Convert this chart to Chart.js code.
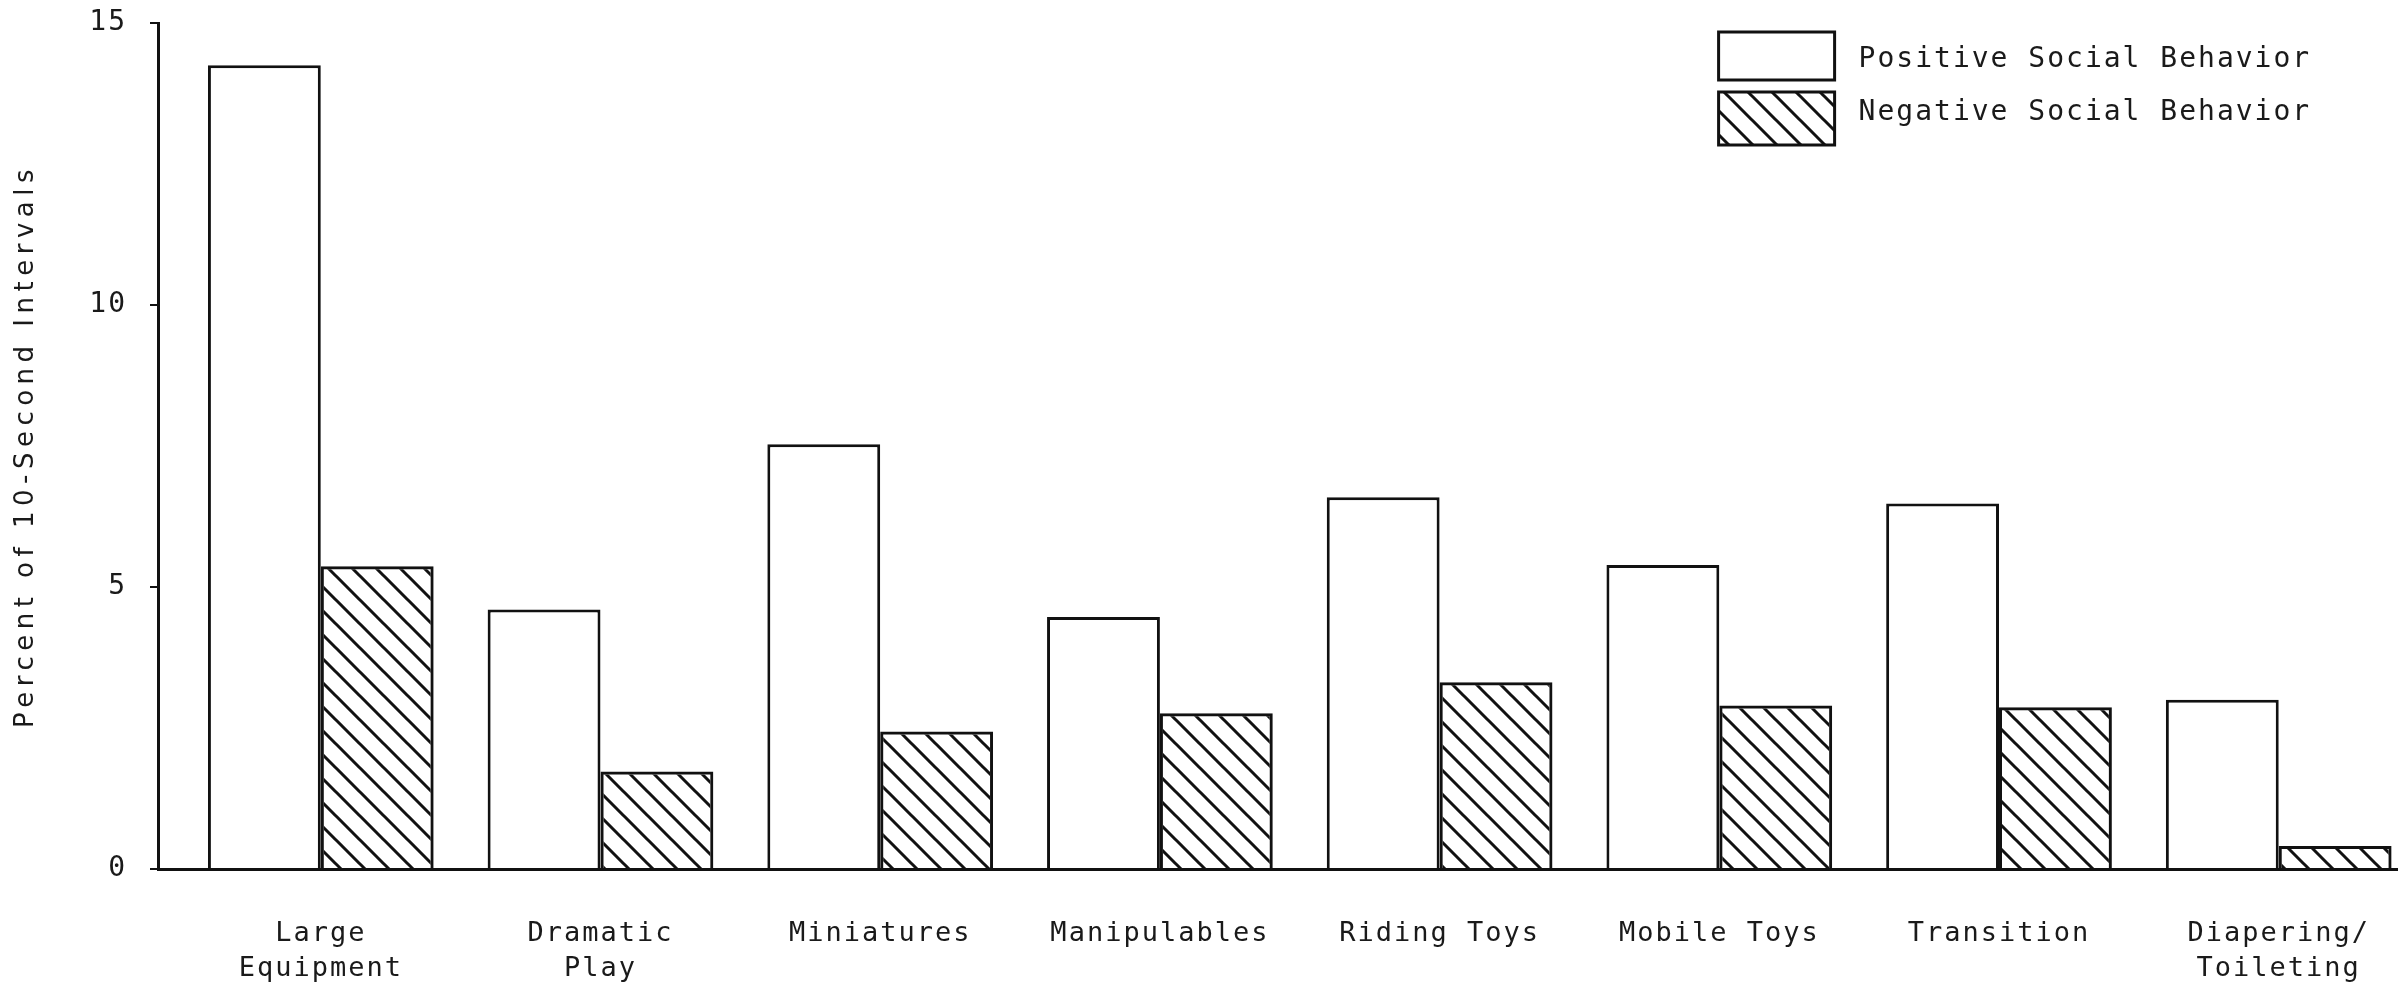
<!DOCTYPE html>
<html>
<head>
<meta charset="utf-8">
<script src="https://cdn.jsdelivr.net/npm/chart.js@4.4.1/dist/chart.umd.min.js"></script>
<style>
  html, body { margin: 0; padding: 0; background: #fff; }
  #wrap { width: 2399px; height: 990px; position: relative; }
</style>
</head>
<body>
<div id="wrap"><canvas id="socialChart"></canvas></div>
<script>
const categories = [
    ['Large', 'Equipment'], ['Dramatic', 'Play'], 'Miniatures', 'Manipulables',
    'Riding Toys', 'Mobile Toys', 'Transition', ['Diapering/', 'Toileting']
];
const seriesNames = ['Positive Social Behavior', 'Negative Social Behavior'];
const positiveValues = [14.25, 4.6, 7.53, 4.47, 6.59, 5.39, 6.48, 3.0];
const negativeValues = [5.37, 1.73, 2.44, 2.76, 3.31, 2.9, 2.87, 0.41];
const yTicks = [0, 5, 10, 15];
const yTitle = 'Percent of 10-Second Intervals';

const ink = '#111';
const textInk = '#1a1a1a';

const canvas = document.getElementById('socialChart');
const ctx = canvas.getContext('2d');

// diagonal "\\\" hatching for the negative bars
function makeHatch() {
    const size = 24;
    const tile = document.createElement('canvas');
    tile.width = size;
    tile.height = size;
    const g = tile.getContext('2d');
    g.strokeStyle = ink;
    g.lineWidth = 3;
    g.beginPath();
    g.moveTo(-4, -4); g.lineTo(size + 4, size + 4);
    g.moveTo(size - 4, -4); g.lineTo(size + 4, 4);
    g.moveTo(-4, size - 4); g.lineTo(4, size + 4);
    g.stroke();
    return ctx.createPattern(tile, 'repeat');
}
const hatch = makeHatch();

// typewriter look: spaced letters (title wider than tick labels)
const spacing = {
    id: 'spacing',
    beforeDraw(chart) { chart.ctx.letterSpacing = '5.5px'; },
    afterDatasetsDraw(chart) { chart.ctx.letterSpacing = '2px'; },
    afterDraw(chart) { chart.ctx.letterSpacing = '0px'; }
};

// stacked legend boxes in the top right corner
const boxLegend = {
    id: 'boxLegend',
    afterDraw(chart) {
        const c = chart.ctx;
        const x = chart.chartArea.right - 679;
        const w = 116;
        const rows = [{ top: 32, h: 48, base: 67 }, { top: 92, h: 53, base: 120 }];
        c.save();
        c.letterSpacing = '2px';
        chart.data.datasets.forEach((ds, i) => {
            const r = rows[i];
            c.fillStyle = ds.backgroundColor;
            c.fillRect(x, r.top, w, r.h);
            c.lineWidth = 3;
            c.strokeStyle = ink;
            c.strokeRect(x, r.top, w, r.h);
            c.fillStyle = textInk;
            c.font = '28px "DejaVu Sans Mono"';
            c.textBaseline = 'alphabetic';
            c.fillText(ds.label, x + 140, r.base);
        });
        c.restore();
    }
};

const toPoints = values => values.map((v, i) => ({ x: i, y: v }));

new Chart(ctx, {
    type: 'bar',
    data: {
        datasets: [{
            label: seriesNames[0],
            data: toPoints(positiveValues),
            backgroundColor: '#fff',
            borderColor: ink,
            borderWidth: 3,
            categoryPercentage: 0.807,
            barPercentage: 1
        }, {
            label: seriesNames[1],
            data: toPoints(negativeValues),
            backgroundColor: hatch,
            borderColor: ink,
            borderWidth: 3,
            categoryPercentage: 0.807,
            barPercentage: 1
        }]
    },
    options: {
        responsive: true,
        maintainAspectRatio: false,
        animation: false,
        layout: { padding: { top: 23, right: 0, bottom: 0, left: 0 } },
        plugins: {
            legend: { display: false },
            tooltip: { enabled: false }
        },
        scales: {
            x: {
                type: 'linear',
                offset: false,
                min: -0.582,
                max: 7.425,
                grid: { display: false },
                border: { display: true, color: ink, width: 3 },
                ticks: {
                    stepSize: 1,
                    includeBounds: false,
                    autoSkip: false,
                    maxRotation: 0,
                    padding: 39,
                    z: 1,
                    color: textInk,
                    font: { family: 'DejaVu Sans Mono', size: 27, lineHeight: 1.3 },
                    callback: v => categories[v] ?? ''
                },
                afterFit: s => { s.height = 121; }
            },
            y: {
                min: yTicks[0],
                max: yTicks[yTicks.length - 1],
                afterBuildTicks: s => { s.ticks = yTicks.map(v => ({ value: v })); },
                grid: { drawOnChartArea: false, tickLength: 8, color: ink, lineWidth: 2 },
                border: { display: true, color: ink, width: 3 },
                ticks: {
                    padding: 23,
                    z: 1,
                    color: textInk,
                    font: { family: 'DejaVu Sans Mono', size: 28 }
                },
                title: {
                    display: true,
                    text: yTitle,
                    color: textInk,
                    font: { family: 'DejaVu Sans', size: 26 },
                    padding: { top: 11, bottom: 0 }
                },
                afterFit: s => {
                    s.width = 158;
                    s.paddingTop = 0;
                    s.paddingBottom = 0;
                }
            }
        }
    },
    plugins: [spacing, boxLegend]
});
</script>
</body>
</html>
